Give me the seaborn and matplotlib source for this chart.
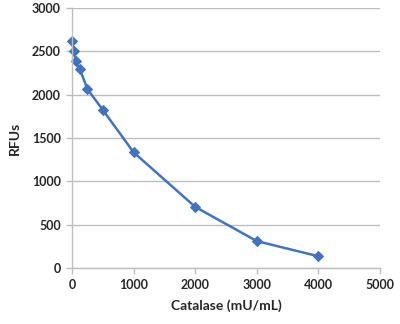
import matplotlib
matplotlib.use("Agg")
import matplotlib.pyplot as plt
import seaborn as sns
import pandas as pd

catalase = [0, 31.25, 62.5, 125, 250, 500, 1000, 2000, 3000, 4000]
rfus = [2620, 2500, 2385, 2300, 2065, 1825, 1335, 705, 310, 135]
x_ticks = [0, 1000, 2000, 3000, 4000, 5000]
y_ticks = [0, 500, 1000, 1500, 2000, 2500, 3000]

sns.set_theme(style="white")
plt.rcParams['font.family'] = ['Lato', 'DejaVu Sans']

df = pd.DataFrame({"Catalase (mU/mL)": catalase, "RFUs": rfus})

fig = plt.figure(figsize=(4.0, 3.24), dpi=100)
ax = fig.add_axes([0.18, 0.173, 0.77, 0.802])
sns.lineplot(data=df, x="Catalase (mU/mL)", y="RFUs", ax=ax, color="#4274BE",
             marker="D", markersize=5.5, markeredgecolor="#4274BE", linewidth=1.8)
for ln in ax.lines:
    ln.set_clip_on(False)
ax.set_xlim(0, 5000)
ax.set_ylim(0, 3000)
ax.set_xticks(x_ticks)
ax.set_yticks(y_ticks)
ax.yaxis.grid(True, color="#BEBEBE", linewidth=1)
ax.xaxis.grid(False)
for s in ["top", "right"]:
    ax.spines[s].set_visible(False)
for s in ["left", "bottom"]:
    ax.spines[s].set_color("#BEBEBE")
    ax.spines[s].set_linewidth(1)
ax.tick_params(axis="both", which="major", length=4, width=1, color="#BEBEBE",
               direction="out", labelsize=9, pad=4, bottom=True, left=True)
for lab in ax.get_xticklabels() + ax.get_yticklabels():
    lab.set_fontweight("bold")
ax.set_xlabel("Catalase (mU/mL)", fontsize=10, fontweight="bold", labelpad=6)
ax.set_ylabel("RFUs", fontsize=10, fontweight="bold", labelpad=8)
fig.savefig("out.png", dpi=100)
